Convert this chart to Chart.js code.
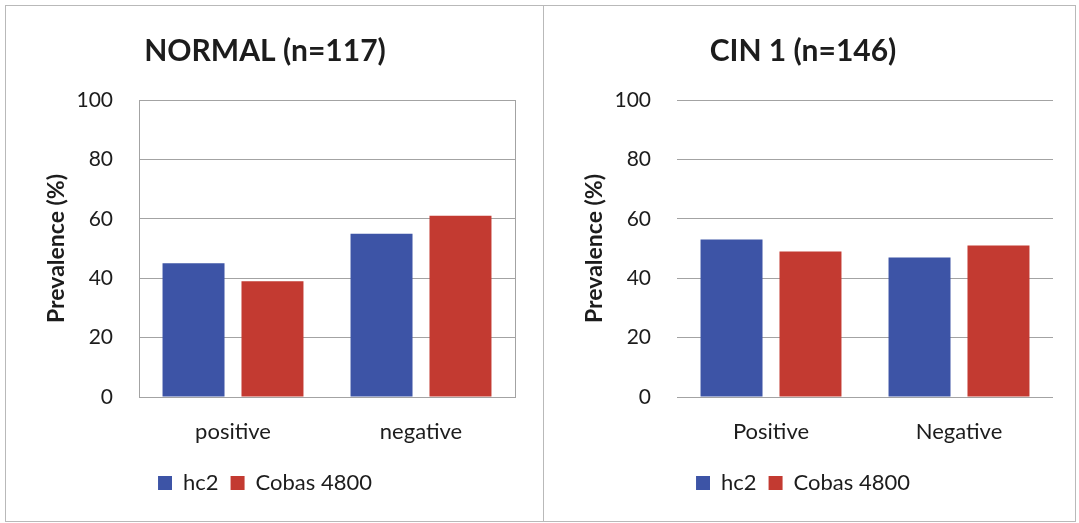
<!DOCTYPE html>
<html>
<head>
<meta charset="utf-8">
<script src="https://cdn.jsdelivr.net/npm/chart.js@4.4.1/dist/chart.umd.min.js"></script>
<style>
  html, body { margin: 0; padding: 0; background: #fff; }
  .panel { position: absolute; top: 5px; height: 517px; border: 1px solid #b9b9b9; box-sizing: border-box; background: #fff; }
  #p1 { left: 5px; width: 539px; }
  #p2 { left: 543px; width: 533px; }
  canvas { display: block; }
</style>
</head>
<body>
<div class="panel" id="p1"><canvas id="c1" width="537" height="515"></canvas></div>
<div class="panel" id="p2"><canvas id="c2" width="531" height="515"></canvas></div>
<script>
// Prevalence (%) of test results by cytology group
const categoriesNormal = ['positive', 'negative'];
const categoriesCin1 = ['Positive', 'Negative'];
const seriesNames = ['hc2', 'Cobas 4800'];
const hc2Normal = [45, 55];
const cobasNormal = [39, 61];
const hc2Cin1 = [53, 47];
const cobasCin1 = [49, 51];
const yTickValues = [0, 20, 40, 60, 80, 100];

const BLUE = '#3d54a6';
const RED = '#c33a31';
const GRID = '#a3a3a3';
const TEXT = '#1c1c1c';
const FONT = 'Lato, "Open Sans", sans-serif';

function makeChart(canvasId, title, labels, hc2, cobas, framed, padRight) {
  const scales = {
    x: {
      grid: { display: false },
      border: { display: false },
      ticks: { color: TEXT, padding: 14, font: { family: FONT, size: 22 } },
      afterFit: s => { s.height = 63; }
    },
    y: {
      min: 0, max: 100,
      afterBuildTicks: s => { s.ticks = yTickValues.map(v => ({ value: v })); },
      grid: { color: GRID, lineWidth: 1, drawTicks: false },
      border: { display: framed, color: GRID, width: 1 },
      ticks: { color: TEXT, padding: 26, font: { family: FONT, size: 21 } },
      title: {
        display: true, text: 'Prevalence (%)', color: TEXT,
        font: { family: FONT, size: 23, weight: 'bold' },
        padding: { top: 28, bottom: 0 }
      },
      afterFit: s => { s.width = 124; }
    }
  };
  if (framed) {
    // right-hand edge of the plot frame
    scales.y2 = {
      position: 'right', min: 0, max: 100,
      grid: { drawOnChartArea: false, drawTicks: false },
      border: { display: true, color: GRID, width: 1 },
      ticks: { display: false },
      afterFit: s => { s.width = 0; }
    };
  }
  return new Chart(document.getElementById(canvasId), {
    type: 'bar',
    data: {
      labels: labels,
      datasets: [
        { label: seriesNames[0], data: hc2, backgroundColor: BLUE, categoryPercentage: 0.84, barPercentage: 0.785 },
        { label: seriesNames[1], data: cobas, backgroundColor: RED, categoryPercentage: 0.84, barPercentage: 0.785 }
      ]
    },
    options: {
      responsive: false,
      animation: false,
      devicePixelRatio: 1,
      layout: { padding: { left: 9, right: padRight, top: 0, bottom: 17 } },
      plugins: {
        title: {
          display: true, text: title, color: TEXT,
          font: { family: FONT, size: 30, weight: 'bold' },
          padding: { top: 27, bottom: 31 }
        },
        legend: {
          position: 'bottom',
          labels: {
            color: TEXT, boxWidth: 14, boxHeight: 14, padding: 12,
            font: { family: FONT, size: 22 }
          }
        },
        tooltip: { enabled: false }
      },
      scales: scales
    }
  });
}

makeChart('c1', 'NORMAL (n=117)', categoriesNormal, hc2Normal, cobasNormal, true, 28);
makeChart('c2', 'CIN 1 (n=146)', categoriesCin1, hc2Cin1, cobasCin1, false, 22);
</script>
</body>
</html>
